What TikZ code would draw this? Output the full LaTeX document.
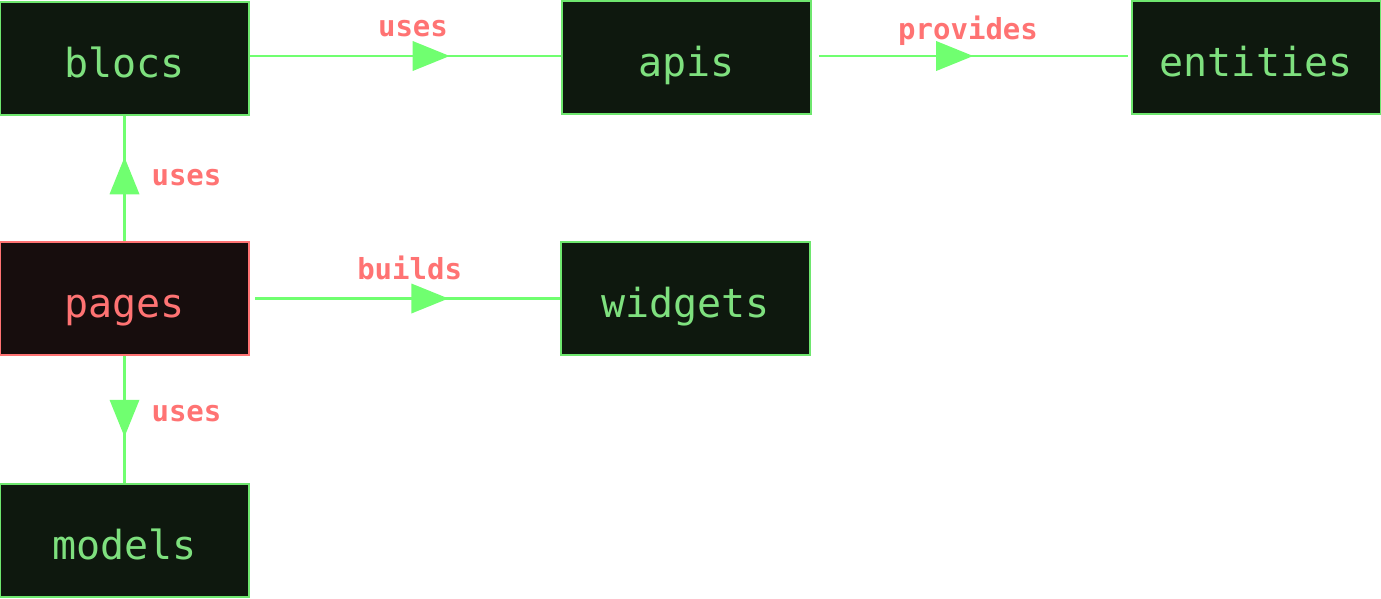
\documentclass[tikz,border=0pt]{standalone}
\usepackage{fontspec}
\setmonofont{DejaVu Sans Mono}
\usetikzlibrary{arrows.meta,decorations.markings}
\definecolor{boxfill}{HTML}{0E180E}
\definecolor{boxline}{HTML}{6EE66E}
\definecolor{boxtext}{HTML}{7EE07E}
\definecolor{pgfill}{HTML}{170D0D}
\definecolor{salmon}{HTML}{FF7373}
\definecolor{edge}{HTML}{70FF70}
\tikzset{
  box/.style={draw=boxline, fill=boxfill, line width=2pt, minimum width=249pt, minimum height=113pt,
    inner sep=0pt, text height=44pt, text depth=6pt, text=boxtext, font=\ttfamily\fontsize{40}{42}\selectfont},
  pagebox/.style={box, draw=salmon, fill=pgfill, text=salmon},
  lbl/.style={text=salmon, font=\ttfamily\bfseries\fontsize{29}{31}\selectfont, inner sep=0pt},
  conn/.style={draw=edge, line width=2.5pt},
  midtip/.style={postaction={decorate}, decoration={markings,
    mark=at position #1 with {\fill[edge] (0,0) -- (-37pt,15pt) -- (-37pt,-15pt) -- cycle;}}}
}
\begin{document}
\begin{tikzpicture}[x=1pt,y=-1pt]
\useasboundingbox (0,0) rectangle (1381,598);
\node[box] (blocs) at (124.5,58.5) {blocs};
\node[box] (apis) at (686.5,57.5) {apis};
\node[box] (entities) at (1256,57.5) {entities};
\node[pagebox] (pages) at (124.5,298.5) {pages};
\node[box] (widgets) at (685.5,298.5) {widgets};
\node[box] (models) at (124.5,540.5) {models};

\draw[conn, midtip=0.642] ([yshift=2.5pt]blocs.east) -- ([yshift=1.5pt]apis.west)
  node[lbl, pos=0.524, yshift=27pt] {uses};
\draw[conn, midtip=0.506, shorten <=7pt, shorten >=3pt] ([yshift=1.5pt]apis.east) -- ([yshift=1.5pt]entities.west)
  node[lbl, pos=0.49, yshift=25pt] {provides};
\draw[conn, midtip=0.64, shorten <=5pt] (pages.east) -- (widgets.west)
  node[lbl, pos=0.515, yshift=31pt] {builds};
\draw[conn, midtip=0.67] (pages.north) -- (blocs.south)
  node[lbl, pos=0.51, xshift=62pt] {uses};
\draw[conn, midtip=0.636] (pages.south) -- (models.north)
  node[lbl, pos=0.45, xshift=62pt] {uses};
\end{tikzpicture}
\end{document}
